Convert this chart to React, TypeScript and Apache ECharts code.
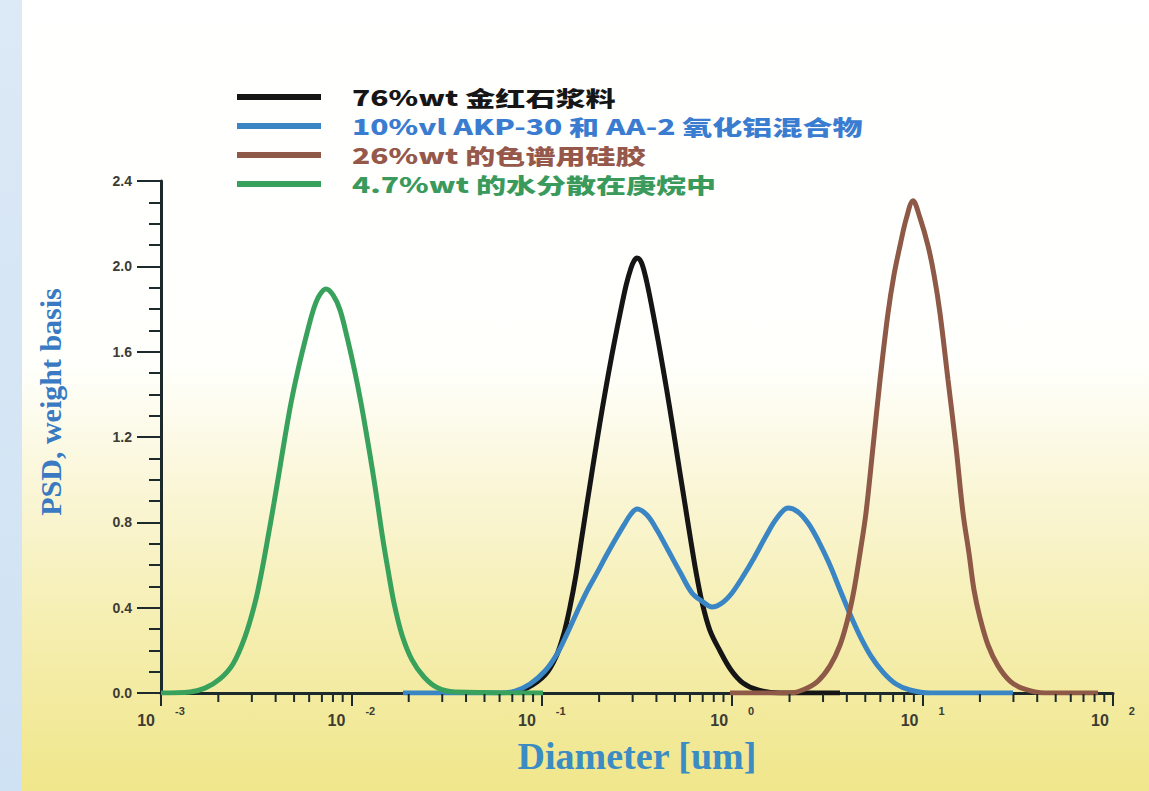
import React, { useEffect, useRef } from 'react';
import * as echarts from 'echarts';

// Series names (legend) and colours
const seriesNames = [
  '76%wt 金红石浆料',
  '10%vl AKP-30 和 AA-2 氧化铝混合物',
  '26%wt 的色谱用硅胶',
  '4.7%wt 的水分散在庚烷中',
];
const seriesColors = ['#151515', '#3a85c4', '#8e5947', '#38a25d'];
const legendTextColors = ['#161616', '#3a7cd0', '#95584a', '#3a9a5c'];

// [diameter (um), PSD weight basis]
const rutileSlurry = [
  [0.06808, 0], [0.08364, 0.023], [0.1039, 0.084], [0.1187, 0.169], [0.1308, 0.281],
  [0.1406, 0.403], [0.1512, 0.553], [0.1614, 0.717], [0.1717, 0.872], [0.1831, 1.031],
  [0.1952, 1.186], [0.2086, 1.341], [0.2242, 1.5], [0.2417, 1.655], [0.2601, 1.796],
  [0.2775, 1.913], [0.2941, 1.992], [0.3049, 2.025], [0.3162, 2.039], [0.328, 2.03],
  [0.34, 1.997], [0.3569, 1.922], [0.3793, 1.805], [0.4077, 1.655], [0.4374, 1.5],
  [0.4686, 1.341], [0.4995, 1.186], [0.5319, 1.031], [0.5679, 0.872], [0.6053, 0.717],
  [0.6469, 0.563], [0.6957, 0.422], [0.7629, 0.295], [0.8629, 0.197], [0.9856, 0.108],
  [1.139, 0.047], [1.366, 0.014], [1.782, 0], [3.684, 0],
];
const aluminaMix = [
  [0.01866, 0], [0.06033, 0], [0.0723, 0.009], [0.0867, 0.042], [0.1039, 0.103],
  [0.1202, 0.183], [0.1356, 0.277], [0.1531, 0.38], [0.1727, 0.478], [0.195, 0.563],
  [0.2174, 0.642], [0.2424, 0.717], [0.2702, 0.788], [0.2941, 0.839], [0.3162, 0.863],
  [0.3569, 0.834], [0.4027, 0.764], [0.4601, 0.67], [0.5319, 0.567], [0.6151, 0.469],
  [0.7025, 0.427], [0.7833, 0.403], [0.8839, 0.422], [0.9975, 0.469], [1.126, 0.539],
  [1.302, 0.633], [1.505, 0.736], [1.719, 0.82], [1.964, 0.867], [2.216, 0.849],
  [2.501, 0.797], [2.822, 0.717], [3.225, 0.609], [3.684, 0.483], [4.156, 0.37],
  [4.691, 0.267], [5.358, 0.173], [6.194, 0.098], [7.25, 0.042], [8.587, 0.014],
  [10.94, 0], [29.85, 0],
];
const silicaGel = [
  [0.9736, 0], [2.012, 0], [2.412, 0.019], [2.822, 0.056], [3.264, 0.127],
  [3.684, 0.225], [4.057, 0.352], [4.362, 0.483], [4.691, 0.656], [5.042, 0.844],
  [5.489, 1.153], [5.975, 1.467], [6.581, 1.781], [7.076, 1.96], [7.608, 2.096],
  [8.228, 2.227], [8.906, 2.307], [9.69, 2.227], [10.68, 2.096], [11.48, 1.96],
  [12.34, 1.781], [13.6, 1.467], [14.98, 1.153], [16.3, 0.844], [17.52, 0.656],
  [18.62, 0.483], [20.02, 0.352], [22.06, 0.225], [24.89, 0.127], [28.77, 0.056],
  [34.09, 0.019], [43.95, 0], [83.41, 0],
];
const waterInHeptane = [
  [0.001, 0], [0.00142, 0.005], [0.001702, 0.023], [0.002041, 0.066], [0.002389, 0.136],
  [0.002761, 0.263], [0.003117, 0.422], [0.003392, 0.577], [0.003648, 0.731], [0.003922, 0.891],
  [0.004192, 1.045], [0.004479, 1.2], [0.004818, 1.36], [0.005242, 1.514], [0.005776, 1.669],
  [0.006286, 1.791], [0.006758, 1.861], [0.007356, 1.894], [0.008004, 1.866], [0.008711, 1.796],
  [0.009482, 1.669], [0.01038, 1.514], [0.01123, 1.36], [0.01207, 1.2], [0.0129, 1.045],
  [0.01371, 0.891], [0.01457, 0.731], [0.01557, 0.577], [0.01674, 0.422], [0.01844, 0.272],
  [0.02081, 0.155], [0.02406, 0.075], [0.0285, 0.023], [0.035, 0.005], [0.1015, 0],
];
const seriesData = [rutileSlurry, aluminaMix, silicaGel, waterInHeptane];

// axis ranges and ticks
const xMin = 0.001;
const xMax = 100;
const yMin = 0;
const yMax = 2.4;
const yInterval = 0.4;
const xMinorTicks = [
  0.002, 0.003, 0.004, 0.005, 0.006, 0.007, 0.008, 0.009,
  0.02, 0.03, 0.04, 0.05, 0.06, 0.07, 0.08, 0.09,
  0.2, 0.3, 0.4, 0.5, 0.6, 0.7, 0.8, 0.9,
  2, 3, 4, 5, 6, 7, 8, 9,
  20, 30, 40, 50, 60, 70, 80, 90,
];

const axisColor = '#1c2a2b';
const labelColor = '#3c3c34';

export default function App() {
  const ref = useRef<HTMLDivElement>(null);
  useEffect(() => {
    const chart = echarts.init(ref.current!, null, { renderer: 'svg' });
    chart.setOption({
      animation: false,
      backgroundColor: {
        type: 'linear', x: 0, y: 0, x2: 0, y2: 1,
        colorStops: [
          { offset: 0, color: '#ffffff' },
          { offset: 0.46, color: '#fffffc' },
          { offset: 0.62, color: '#faf6d6' },
          { offset: 0.8, color: '#f5eeaf' },
          { offset: 1, color: '#f0e68b' },
        ],
      },
      grid: { left: 161, right: 36, top: 181, bottom: 98 },
      xAxis: {
        type: 'log',
        logBase: 10,
        min: xMin,
        max: xMax,
        name: 'Diameter [um]',
        nameLocation: 'middle',
        nameGap: 44,
        nameTextStyle: {
          fontFamily: 'Liberation Serif',
          fontWeight: 'bold',
          fontSize: 38,
          color: '#3b8cc2',
        },
        axisLine: { lineStyle: { color: axisColor, width: 3 } },
        axisTick: { length: 13, lineStyle: { color: axisColor, width: 2 } },
        splitLine: { show: false },
        axisLabel: {
          margin: 12,
          formatter: (v: number) => `{b|10}{e|${Math.round(Math.log10(v))}}`,
          rich: {
            b: { fontFamily: 'Liberation Sans', fontWeight: 'bold', fontSize: 16, color: labelColor },
            e: { fontFamily: 'Liberation Sans', fontWeight: 'bold', fontSize: 11, color: labelColor, padding: [0, 0, 20, 20] },
          },
        },
      },
      yAxis: {
        type: 'value',
        min: yMin,
        max: yMax,
        interval: yInterval,
        name: 'PSD, weight basis',
        nameLocation: 'middle',
        nameGap: 96,
        nameTextStyle: {
          fontFamily: 'Liberation Serif',
          fontWeight: 'bold',
          fontSize: 30,
          color: '#3a7ac2',
          padding: [0, 0, 0, 70],
        },
        axisLine: { show: true, lineStyle: { color: axisColor, width: 3 } },
        axisTick: { show: true, length: 24, lineStyle: { color: axisColor, width: 2 } },
        minorTick: { show: true, splitNumber: 4, length: 12, lineStyle: { color: axisColor, width: 2 } },
        splitLine: { show: false },
        axisLabel: {
          margin: 29,
          formatter: (v: number) => v.toFixed(1),
          fontFamily: 'Liberation Sans',
          fontWeight: 'bold',
          fontSize: 14,
          color: labelColor,
        },
      },
      series: seriesData.map((d, i) => ({
        type: 'line',
        name: seriesNames[i],
        data: d,
        smooth: 0.35,
        showSymbol: false,
        symbol: 'none',
        color: seriesColors[i],
        lineStyle: { width: 5, color: seriesColors[i] },
        z: 2 + i,
      })),
    });

    // graphics: left strip, legend rows, and log minor ticks placed via the axis scale
    const graphics: any[] = [
      {
        type: 'rect', left: 0, top: 0, z: 0,
        shape: { width: 22, height: 791 },
        style: {
          fill: {
            type: 'linear', x: 0, y: 0, x2: 0, y2: 1,
            colorStops: [
              { offset: 0, color: '#dce9f6' },
              { offset: 1, color: '#cfe2f3' },
            ],
          },
        },
      },
    ];
    seriesNames.forEach((n, i) => {
      const y = 97 + 29 * i;
      graphics.push({
        type: 'line',
        shape: { x1: 237, y1: y, x2: 321, y2: y },
        style: { stroke: seriesColors[i], lineWidth: 6 },
        z: 10,
      });
      graphics.push({
        type: 'text',
        x: 352,
        y,
        scaleX: 1.43,
        style: {
          text: n,
          fill: legendTextColors[i],
          font: '900 21px "Noto Sans CJK SC"',
          verticalAlign: 'middle',
          align: 'left',
        },
        z: 10,
      });
    });
    xMinorTicks.forEach((v) => {
      const p = chart.convertToPixel({ gridIndex: 0 }, [v, 0]) as number[];
      if (p && isFinite(p[0]) && isFinite(p[1])) {
        graphics.push({
          type: 'line',
          shape: { x1: p[0], y1: p[1] + 1, x2: p[0], y2: p[1] + 9 },
          style: { stroke: axisColor, lineWidth: 2 },
          z: 10,
        });
      }
    });
    chart.setOption({ graphic: graphics });
    return () => chart.dispose();
  }, []);
  return <div ref={ref} style={{ position: 'absolute', left: 0, top: 0, width: 1149, height: 791 }} />;
}
